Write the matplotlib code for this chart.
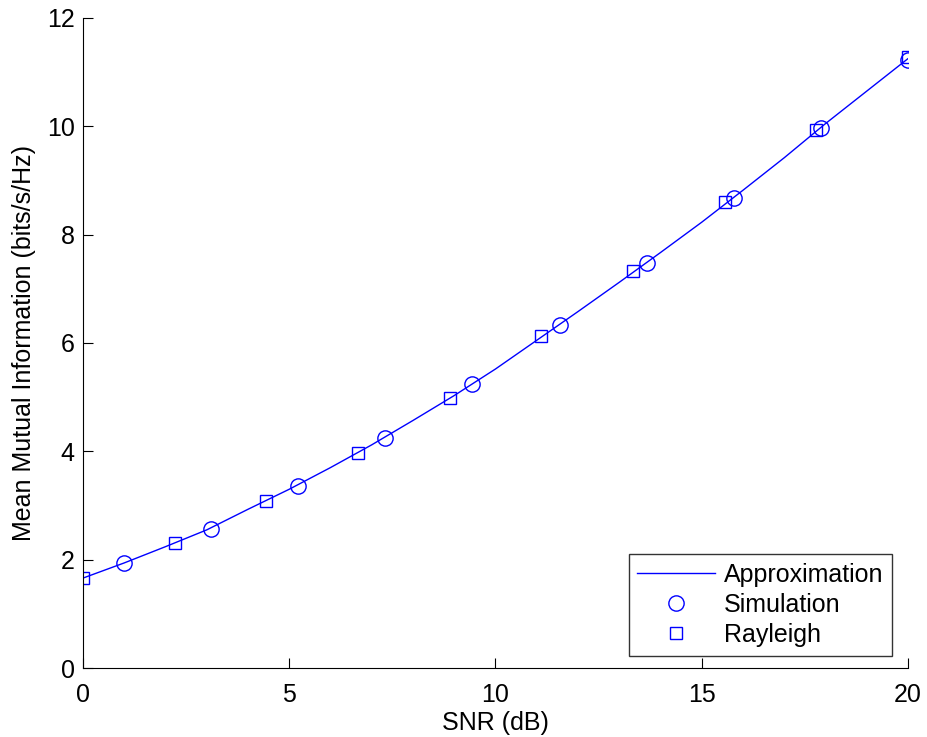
import matplotlib
matplotlib.use("Agg")
import matplotlib.pyplot as plt
import numpy as np

plt.rcParams['font.family'] = ['Liberation Sans', 'DejaVu Sans']

# Approximation curve (SNR in dB, mean mutual information)
approx_snr = [0, 1, 2, 3, 4, 5, 6, 7, 8, 9, 10, 11, 12, 13, 14, 15, 16, 17, 18, 19, 20]
approx_mi = [1.66, 1.94, 2.24, 2.55, 2.93, 3.30, 3.70, 4.12, 4.57, 5.03, 5.52,
             6.05, 6.58, 7.12, 7.67, 8.23, 8.82, 9.42, 10.05, 10.65, 11.25]

# Simulation points
sim_snr = [1.0, 3.11, 5.22, 7.33, 9.44, 11.56, 13.67, 15.78, 17.89, 20.0]
sim_mi = [1.94, 2.57, 3.36, 4.25, 5.24, 6.33, 7.48, 8.68, 9.97, 11.22]

# Rayleigh points
ray_snr = [0.0, 2.22, 4.44, 6.67, 8.89, 11.11, 13.33, 15.56, 17.78, 20.0]
ray_mi = [1.67, 2.31, 3.08, 3.97, 4.98, 6.13, 7.33, 8.60, 9.93, 11.28]

xticks = [0, 5, 10, 15, 20]
yticks = [0, 2, 4, 6, 8, 10, 12]

fs = 18

fig = plt.figure(figsize=(9.27, 7.37), dpi=100)
ax = fig.add_axes([0.0895, 0.0936, 0.890, 0.882])

blue = (0, 0, 1)
ax.plot(approx_snr, approx_mi, '-', color=blue, lw=1.0, label='Approximation')
ax.plot(sim_snr, sim_mi, 'o', color=blue, mfc='none', ms=11, mew=1.0, label='Simulation')
ax.plot(ray_snr, ray_mi, 's', color=blue, mfc='none', ms=9, mew=1.0, label='Rayleigh')

ax.set_xlim(0, 20)
ax.set_ylim(0, 12)
ax.set_xticks(xticks)
ax.set_yticks(yticks)
ax.spines['top'].set_visible(False)
ax.spines['right'].set_visible(False)
for s in ('left', 'bottom'):
    ax.spines[s].set_linewidth(0.8)
    ax.spines[s].set_color('black')
ax.tick_params(direction='in', length=7, width=0.8, labelsize=fs, colors='black',
               top=False, right=False)
ax.tick_params(axis='x', pad=11)
ax.tick_params(axis='y', pad=6)

ax.set_xlabel('SNR (dB)', fontsize=fs, labelpad=3)
ax.set_ylabel('Mean Mutual Information (bits/s/Hz)', fontsize=fs, labelpad=8)

leg = ax.legend(loc='lower right', bbox_to_anchor=(0.9806, 0.0185), fontsize=fs,
                frameon=True, fancybox=False, borderaxespad=0.0,
                handlelength=3.1, handletextpad=0.35, borderpad=0.35,
                labelspacing=0.24)
leg.get_frame().set_edgecolor('black')
leg.get_frame().set_linewidth(1.0)

fig.savefig('out.png', dpi=100)
